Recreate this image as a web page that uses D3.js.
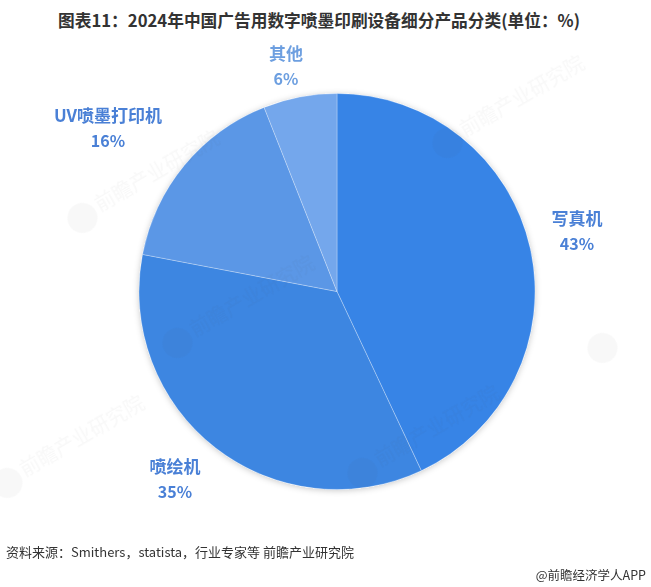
<!DOCTYPE html>
<html><head><meta charset="utf-8">
<script src="https://cdn.jsdelivr.net/npm/d3@7"></script>
<style>body{margin:0;background:#fff}svg{display:block}</style>
</head><body>
<script>
const categories = ["写真机", "喷绘机", "UV喷墨打印机", "其他"];
const values = [43, 35, 16, 6];
const colors = ["#3784e6", "#3d86e1", "#5b97e6", "#74a7ec"];
const labelPos = [[577, 225], [175, 473], [108, 122], [286, 60]];
const titleText = "图表11：2024年中国广告用数字喷墨印刷设备细分产品分类(单位：%)";
const sourceText = "资料来源：Smithers，statista，行业专家等 前瞻产业研究院";
const creditText = "@前瞻经济学人APP";

const W = 651, H = 587;
const svg = d3.select("body").append("svg").attr("width", W).attr("height", H)
  .style("font-family", "'Noto Sans CJK SC','Noto Sans',sans-serif");

const defs = svg.append("defs");
const f = defs.append("filter").attr("id", "sh").attr("x", "-10%").attr("y", "-10%").attr("width", "120%").attr("height", "120%");
f.append("feDropShadow").attr("dx", 0).attr("dy", 1).attr("stdDeviation", 3).attr("flood-color", "#000").attr("flood-opacity", 0.22);

svg.append("text").attr("x", 319).attr("y", 27).attr("text-anchor", "middle")
  .attr("font-size", 17).attr("font-weight", "bold").attr("fill", "#333")
  .attr("textLength", 522).attr("lengthAdjust", "spacingAndGlyphs").text(titleText);

const cx = 337, cy = 291.5, R = 198;
const pie = d3.pie().sort(null).value(d => d)(values);
const arc = d3.arc().innerRadius(0).outerRadius(R);
const g = svg.append("g").attr("transform", `translate(${cx},${cy})`);
g.append("circle").attr("r", R).attr("fill", "#fff").attr("filter", "url(#sh)");
g.selectAll("path").data(pie).join("path")
  .attr("d", arc).attr("fill", (d, i) => colors[i])
  .attr("stroke", "rgba(255,255,255,0.35)").attr("stroke-width", 0.8);

// faint watermarks
const wm = [[105, 205, true], [470, 130, true], [625, 335, false], [385, 460, true], [30, 470, true], [200, 330, true]];
const wg = svg.append("g").attr("opacity", 0.04);
wm.forEach(([x, y, withText]) => {
  const t = wg.append("g").attr("transform", `translate(${x},${y}) rotate(-30)`);
  t.append("circle").attr("cx", -26).attr("cy", 0).attr("r", 15).attr("fill", "#555");
  if (withText) t.append("text").attr("x", -8).attr("y", 4).attr("font-size", 20).attr("fill", "#555").text("前瞻产业研究院");
});

const lg = svg.append("g");
categories.forEach((c, i) => {
  const [x, y] = labelPos[i];
  lg.append("text").attr("x", x).attr("y", y).attr("text-anchor", "middle")
    .attr("font-size", 17).attr("font-weight", "bold").attr("fill", i === 3 ? "#6d9fe0" : "#4a80d6").text(c);
  lg.append("text").attr("x", x).attr("y", y + 25).attr("text-anchor", "middle")
    .attr("font-size", 16).attr("font-weight", "bold").attr("fill", i === 3 ? "#6d9fe0" : "#4a80d6").text(values[i] + "%");
});

svg.append("text").attr("x", 6).attr("y", 557).attr("font-size", 13).attr("fill", "#333").text(sourceText);
svg.append("text").attr("x", 646).attr("y", 580).attr("text-anchor", "end").attr("font-size", 12.5).attr("fill", "#333").text(creditText);
</script>
</body></html>
